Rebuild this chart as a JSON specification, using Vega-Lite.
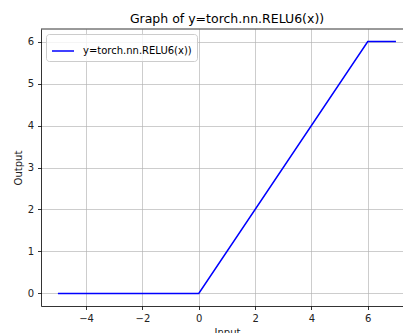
{
  "$schema": "https://vega.github.io/schema/vega-lite/v6.json",
  "width": 362,
  "height": 277,
  "autosize": {"type": "none"},
  "padding": {"left": 41, "top": 29, "right": 0, "bottom": 27},
  "background": "white",
  "title": {
    "text": "Graph of y=torch.nn.RELU6(x))",
    "font": "DejaVu Sans",
    "fontSize": 12.5,
    "fontWeight": "normal",
    "color": "#000000",
    "anchor": "middle",
    "baseline": "alphabetic",
    "offset": 7,
    "dx": 5,
    "dy": 13.5
  },
  "config": {
    "view": {"stroke": null},
    "font": "DejaVu Sans",
    "axis": {
      "labelFont": "DejaVu Sans",
      "labelFontSize": 10,
      "labelColor": "#222222",
      "titleFont": "DejaVu Sans",
      "titleFontSize": 10,
      "titleFontWeight": "normal",
      "titleColor": "#222222",
      "domainColor": "#000000",
      "domainWidth": 0.8,
      "tickColor": "#000000",
      "tickWidth": 0.8,
      "tickSize": 3.5,
      "labelPadding": 4,
      "gridColor": "#b0b0b0",
      "gridWidth": 0.8,
      "gridOpacity": 0.8
    },
    "legend": {
      "labelFont": "DejaVu Sans",
      "labelFontSize": 10,
      "labelColor": "#000000"
    }
  },
  "data": {
    "values": [
      {"x": -5, "y": 0, "series": "y=torch.nn.RELU6(x))"},
      {"x": 0, "y": 0, "series": "y=torch.nn.RELU6(x))"},
      {"x": 6, "y": 6, "series": "y=torch.nn.RELU6(x))"},
      {"x": 7, "y": 6, "series": "y=torch.nn.RELU6(x))"}
    ]
  },
  "layer": [
    {
      "data": {"values": [{"top": 6.3}]},
      "mark": {"type": "rule", "color": "#000000", "strokeWidth": 0.8},
      "encoding": {
        "y": {"field": "top", "type": "quantitative"}
      }
    },
    {
      "mark": {"type": "line", "strokeWidth": 1.5, "clip": true},
      "encoding": {
        "x": {
          "field": "x",
          "type": "quantitative",
          "scale": {"domain": [-5.6, 7.25], "nice": false, "zero": false},
          "axis": {
            "values": [-4, -2, 0, 2, 4, 6],
            "title": "Input",
            "titleX": 186,
            "titleAnchor": "middle",
            "titlePadding": 4,
            "grid": true
          }
        },
        "y": {
          "field": "y",
          "type": "quantitative",
          "scale": {"domain": [-0.3, 6.3], "nice": false, "zero": false},
          "axis": {
            "values": [0, 1, 2, 3, 4, 5, 6],
            "title": "Output",
            "titlePadding": 4,
            "grid": true
          }
        },
        "color": {
          "field": "series",
          "type": "nominal",
          "scale": {"range": ["#0000ff"]},
          "legend": {
            "title": null,
            "orient": "top-left",
            "offset": 5,
            "symbolType": "stroke",
            "symbolSize": 484,
            "symbolStrokeWidth": 1.5,
            "labelOffset": 8,
            "padding": 5,
            "strokeColor": "#cccccc",
            "fillColor": "rgba(255,255,255,0.8)",
            "cornerRadius": 3
          }
        }
      }
    }
  ]
}
